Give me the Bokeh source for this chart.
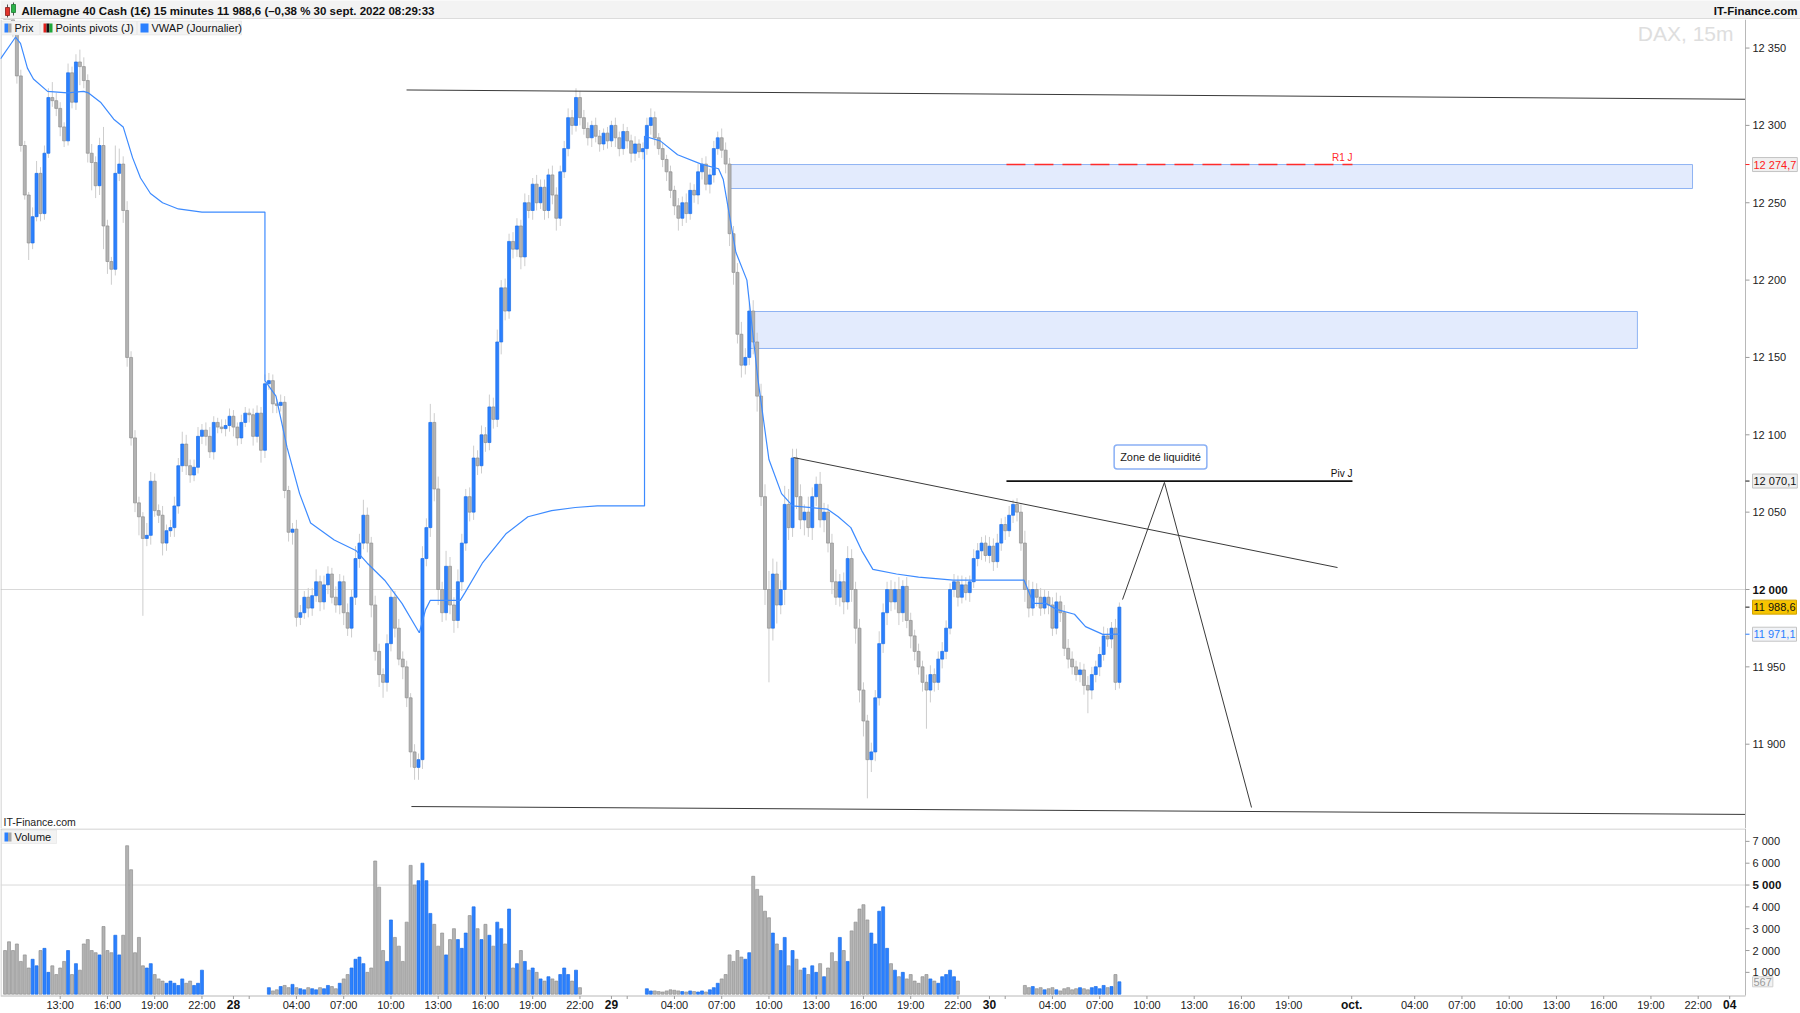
from bokeh.plotting import figure
from bokeh.models import Range1d, Label, BoxAnnotation, ColumnDataSource
from bokeh.layouts import column
from bokeh.embed import file_html
from bokeh.resources import INLINE

FONT = "Liberation Sans"

# ---------------- data (15-minute DAX CFD bars, hours since 27 Sep 2022 00:00) ----------------
T_FIRST = 9.5
BAR_H = 0.25
OPEN_FIRST = 12400

closes = [
    12390,
    12378, 12360, 12332, 12287, 12255, 12224, 12241, 12269,
    12243, 12282, 12318, 12316, 12311, 12299, 12290, 12334,
    12315, 12341, 12338, 12329, 12282, 12276, 12261, 12287,
    12235, 12212, 12207, 12269, 12275, 12245, 12150, 12098,
    12056, 12047, 12033, 12035, 12070, 12051, 12048, 12030,
    12038, 12040, 12054, 12080, 12094, 12080, 12074, 12079,
    12099, 12103, 12099, 12089, 12108, 12105, 12104, 12106,
    12112, 12105, 12098, 12108, 12114, 12113, 12099, 12114,
    12090, 12133, 12135, 12120, 12119, 12121, 12064, 12037,
    12039, 11982, 11985, 11995, 11988, 11996, 12005, 11992,
    12003, 12010, 11995, 11990, 12005, 11985, 11975, 11995,
    12020, 12030, 12048, 12030, 11990, 11960, 11945, 11940,
    11965, 11995, 11975, 11955, 11950, 11930, 11895, 11885,
    11890, 12020, 12040, 12108, 12065, 12000, 11985, 12015,
    11990, 11980, 12005, 12030, 12060, 12050, 12085, 12080,
    12100, 12095, 12118, 12110, 12160, 12195, 12180, 12225,
    12220, 12235, 12215, 12250, 12245, 12262, 12250, 12260,
    12245, 12268, 12255, 12240, 12270, 12285, 12305, 12300,
    12318, 12305, 12298, 12292, 12300, 12293, 12288, 12295,
    12290, 12300, 12292, 12285, 12296, 12290, 12282, 12288,
    12283, 12285, 12300, 12305, 12292, 12285, 12278, 12270,
    12258, 12248, 12240, 12250, 12243, 12258, 12255, 12270,
    12275, 12262, 12268, 12285, 12292, 12284, 12275, 12230,
    12205, 12165, 12145, 12150, 12180, 12160, 12125, 12060,
    12000, 11975, 12010, 11990, 12000, 12055, 12040, 12085,
    12060, 12045, 12050, 12040, 12060, 12068, 12045, 12050,
    12030, 12005, 11995, 12005, 11992, 12020, 12000, 11975,
    11935, 11915, 11890, 11895, 11930, 11965, 11985, 12000,
    11992, 12000, 11985, 12002, 11980, 11970, 11960, 11950,
    11940, 11935, 11945, 11940, 11955, 11960, 11975, 12000,
    12005, 11995, 12003, 11998, 12005, 12020, 12025, 12030,
    12022, 12028, 12018, 12030, 12042, 12038, 12048, 12055,
    12050, 12030, 12000, 11988, 12000, 11995, 11988, 11995,
    11990, 11975, 11992, 11985, 11962, 11955, 11950, 11945,
    11948, 11938, 11935, 11945, 11950, 11958, 11970, 11968,
    11975, 11940, 11988.6,
]

wick_up = [
    4,
    5, 4, 3, 4, 3, 2, 6, 8,   4, 5, 6, 10, 5, 4, 3, 6,   4, 5, 8, 6, 4, 6, 4, 5,
    12, 4, 3, 18, 10, 5, 6, 4,   5, 4, 3, 8, 6, 5, 4, 6,   4, 5, 6, 5, 8, 6, 4, 5,
    6, 4, 5, 6, 4, 3, 5, 4,   5, 4, 3, 5, 4, 3, 4, 5,   4, 6, 5, 4, 3, 5, 4, 3,
    4, 6, 5, 4, 6, 5, 8, 4,   6, 5, 4, 7, 5, 4, 6, 5,   8, 6, 10, 5, 4, 6, 5, 4,
    6, 5, 4, 6, 5, 4, 3, 5,   4, 8, 6, 12, 6, 8, 5, 10,   6, 5, 8, 6, 5, 6, 8, 5,
    6, 5, 8, 6, 8, 5, 6, 5,   6, 5, 4, 6, 5, 4, 6, 5,   5, 4, 6, 5, 4, 5, 6, 5,
    6, 4, 5, 4, 3, 5, 4, 3,   4, 3, 5, 4, 5, 3, 4, 5,   3, 4, 5, 6, 4, 3, 4, 3,
    4, 3, 5, 4, 6, 5, 4, 5,   4, 5, 4, 5, 4, 6, 5, 4,   5, 6, 8, 6, 5, 7, 6, 8,
    8, 12, 10, 8, 6, 12, 10, 6,   6, 8, 5, 10, 6, 5, 8, 6,   5, 6, 8, 5, 6, 8, 6, 5,
    6, 5, 4, 6, 5, 8, 6, 5,   6, 5, 8, 4, 6, 5, 4, 5,   4, 5, 6, 4, 5, 6, 5, 4,
    5, 4, 6, 5, 4, 6, 5, 4,   5, 6, 5, 6, 4, 5, 6, 3,   4, 5, 8, 6, 5, 4, 6, 5,
    4, 5, 6, 4, 5, 6, 5, 4,   5, 4, 6, 5, 4, 5, 6, 5,   4, 6, 3,
]

wick_dn = [
    3,
    4, 3, 5, 4, 3, 11, 4, 3,   5, 4, 3, 4, 5, 6, 4, 3,   4, 5, 12, 5, 6, 18, 8, 6,
    15, 8, 10, 4, 5, 8, 6, 5,   6, 12, 50, 5, 6, 4, 5, 8,   5, 4, 6, 5, 4, 6, 5, 4,
    4, 5, 6, 4, 5, 4, 3, 5,   4, 6, 5, 4, 3, 5, 6, 4,   8, 5, 4, 6, 5, 4, 5, 6,
    8, 6, 5, 4, 6, 5, 4, 6,   5, 6, 4, 5, 6, 8, 5, 6,   5, 6, 4, 6, 8, 6, 8, 10,
    6, 5, 6, 4, 8, 6, 10, 8,   8, 6, 5, 6, 8, 10, 6, 5,   6, 8, 5, 6, 5, 6, 5, 6,
    5, 6, 5, 6, 5, 8, 6, 5,   6, 5, 8, 6, 5, 6, 5, 4,   6, 5, 6, 8, 5, 4, 5, 6,
    4, 5, 4, 5, 6, 4, 5, 4,   5, 4, 6, 5, 4, 5, 6, 5,   4, 5, 4, 6, 5, 4, 5, 6,
    5, 6, 8, 5, 6, 4, 5, 6,   5, 4, 6, 5, 4, 5, 6, 8,   8, 6, 8, 6, 5, 8, 10, 6,
    10, 35, 8, 12, 6, 10, 8, 6,   8, 6, 10, 6, 8, 6, 5, 8,   6, 8, 5, 6, 8, 5, 8, 10,
    8, 10, 25, 8, 6, 5, 6, 8,   6, 5, 8, 6, 5, 8, 6, 5,   6, 25, 8, 6, 5, 6, 5, 4,
    5, 6, 4, 5, 6, 4, 5, 6,   4, 5, 6, 4, 5, 6, 4, 5,   6, 5, 8, 6, 5, 6, 5, 4,
    6, 5, 4, 6, 5, 6, 5, 4,   5, 6, 15, 6, 5, 6, 4, 5,   6, 5, 4,
]

volumes = [
    2000,
    2400, 2000, 2300, 1500, 1800, 1200, 1600, 1300,
    2000, 2100, 1000, 1300, 900, 1200, 1500, 2000,
    900, 1400, 1100, 2300, 2500, 2000, 1900, 1800,
    3100, 2000, 1900, 2700, 1800, 2700, 6800, 5700,
    1900, 2600, 1300, 1200, 1400, 900, 700, 600,
    500, 600, 500, 400, 700, 500, 600, 400,
    500, 1100, 0, 0, 0, 0, 0, 0,
    0, 0, 0, 0, 0, 0, 0, 0,
    0, 0, 300, 150, 200, 350, 400, 300,
    450, 300, 250, 200, 300, 250, 200, 300,
    250, 400, 350, 250, 500, 700, 900, 1200,
    1600, 1700, 1400, 1000, 1200, 6100, 4900, 2000,
    1500, 3400, 2600, 2200, 1500, 3300, 5900, 5000,
    5200, 6000, 5200, 3700, 3200, 2200, 2800, 1800,
    2500, 3000, 2500, 2100, 2800, 3600, 4000, 3000,
    2500, 3200, 2700, 2200, 3300, 3000, 2300, 3900,
    1200, 1400, 2000, 1500, 1100, 1200, 1000, 700,
    600, 800, 700, 600, 900, 1200, 900, 600,
    1100, 300, 0, 0, 0, 0, 0, 0,
    0, 0, 0, 0, 0, 0, 0, 0,
    0, 0, 250, 150, 150, 120, 100, 150,
    200, 180, 150, 120, 100, 150, 120, 100,
    150, 100, 200, 300, 500, 700, 900, 1800,
    1500, 2000, 1700, 1600, 1900, 5400, 4800, 4500,
    3800, 3500, 2800, 2300, 2000, 2600, 1300, 2000,
    1600, 1100, 1200, 900, 1300, 1000, 1400, 800,
    1200, 1900, 1500, 2600, 2000, 1500, 2900, 3300,
    3900, 4100, 3400, 2800, 2300, 3800, 4000, 2100,
    1400, 1100, 800, 1000, 700, 900, 600, 500,
    800, 900, 700, 600, 500, 800, 900, 1100,
    800, 600, 0, 0, 0, 0, 0, 0,
    0, 0, 0, 0, 0, 0, 0, 0,
    0, 0, 400, 300, 350, 250, 300, 200,
    250, 300, 200, 150, 250, 300, 200, 250,
    300, 250, 200, 300, 350, 250, 400, 300,
    350, 900, 567,
]

vwap_t = [9.21, 10.16, 10.48, 10.92, 11.3, 12.2, 13.46, 14.48, 14.8, 15.56, 16.4, 17.0, 17.6, 18.1,
          18.73, 19.5, 20.5, 22.0, 26.0, 26.0, 26.7, 27.4, 28.2, 28.9, 30.4, 31.8, 32.5, 33.6, 34.7,
          35.8, 36.2, 36.5, 38.4, 38.7, 39.8, 41.3, 42.7, 44.2, 45.7, 47.1, 50.1, 50.1, 51.1, 52.2,
          53.7, 54.8, 55.1, 55.9, 56.6, 57.3, 58.0, 58.8, 59.5, 61.7, 62.4, 63.2, 63.9, 64.6, 66.1,
          67.5, 69.7, 74.2, 74.8, 75.6, 76.3, 77.4, 78.1, 79.2, 80.25]
vwap_p = [12343, 12357, 12353, 12337, 12330, 12322, 12321, 12322, 12321, 12315, 12304, 12299, 12279, 12266,
          12256, 12250, 12246, 12244, 12244, 12135, 12125, 12092, 12062, 12043, 12032, 12025, 12017, 12006,
          11991, 11972, 11987, 11993, 11993, 11998, 12017, 12036, 12047, 12051, 12053, 12054, 12054, 12293,
          12290, 12281, 12275, 12272, 12265, 12218, 12200, 12136, 12084, 12062, 12054, 12052, 12047, 12040,
          12025, 12013, 12010, 12008, 12006, 12006, 11991, 11991, 11987, 11984, 11976, 11971, 11971.1]

price_ticks = [11900, 11950, 12000, 12050, 12100, 12150, 12200, 12250, 12300, 12350]
volume_ticks = [1000, 2000, 3000, 4000, 5000, 6000, 7000]
time_ticks = [13, 16, 19, 22, 28, 31, 34, 37, 40, 43, 46, 52, 55, 58, 61, 64, 67, 70,
              76, 79, 82, 85, 88, 91, 99, 102, 105, 108, 111, 114, 117]
time_labels = ["13:00", "16:00", "19:00", "22:00",
               "04:00", "07:00", "10:00", "13:00", "16:00", "19:00", "22:00",
               "04:00", "07:00", "10:00", "13:00", "16:00", "19:00", "22:00",
               "04:00", "07:00", "10:00", "13:00", "16:00", "19:00",
               "04:00", "07:00", "10:00", "13:00", "16:00", "19:00", "22:00"]
minor_time_ticks = [25, 49, 73]
day_ticks = [24, 48, 72, 95, 119]
day_labels = ["28", "29", "30", "oct.", "04"]

# user drawings (time in hours, price)
trend_top_t, trend_top_p = [34.99, 120.0], [12322.9, 12316.9]
trend_bottom_t, trend_bottom_p = [35.30, 120.0], [11859.7, 11854.6]
trend_desc_t, trend_desc_p = [59.56, 94.10], [12085.3, 12014.2]
proj_t, proj_p = [80.45, 83.11, 88.64], [11993.5, 12069.2, 11859.1]
zone_left = [55.49, 56.70]
zone_right = [116.64, 113.14]
zone_bottom = [12259.2, 12155.8]
zone_top = [12274.7, 12179.7]
pivot_t = [73.08, 95.05]
r1_level = 12274.7
piv_level = 12070.1
last_price = 11988.6
vwap_last = 11971.1
last_volume = 567

# ---------------- pixel helpers for UI placement ----------------
PX_H = 15.75
T_AT0 = 9.21
PX_PT = 1.547
Y_12000 = 589
VOL_ZERO_Y = 993.7
PX_VOL = 0.021833
W = 1800
AXIS_X = 1745


def tx(x):
    return T_AT0 + x / PX_H


def py(y):
    return 12000 + (Y_12000 - y) / PX_PT


def vy(y):
    return (VOL_ZERO_Y - y) / PX_VOL


def fr(v, dec=0):
    return f"{v:,.{dec}f}".replace(",", " ").replace(".", ",")


def label(fig, x, y, text, size="11px", color="#222222", align="left", baseline="middle", bold=False, **kw):
    fig.add_layout(Label(x=x, y=y, text=text, text_font=FONT, text_font_size=size, text_color=color,
                         text_align=align, text_baseline=baseline,
                         text_font_style="bold" if bold else "normal", **kw))


n = len(closes)
assert len(wick_up) == n and len(wick_dn) == n and len(volumes) == n, (n, len(wick_up), len(wick_dn), len(volumes))
times = [T_FIRST + i * BAR_H for i in range(n)]
opens = [OPEN_FIRST] + closes[:-1]
tops = [max(o, c) for o, c in zip(opens, closes)]
bots = [min(o, c) for o, c in zip(opens, closes)]
highs = [t + u for t, u in zip(tops, wick_up)]
lows = [b - d for b, d in zip(bots, wick_dn)]
is_up = [c >= o for o, c in zip(opens, closes)]
UP_FILL, UP_LINE = "#2b80ff", "#1c6fe6"
DN_FILL, DN_LINE = "#b3b3b3", "#919191"
src = ColumnDataSource(dict(
    t=times, top=tops, bot=bots, h=highs, l=lows,
    fill=[UP_FILL if u else DN_FILL for u in is_up],
    line=[UP_LINE if u else DN_LINE for u in is_up],
))

xr = Range1d(tx(0), tx(W))
BORDER = "#c4c4c4"

# ---------------- header (page pixel coordinates, y downwards) ----------------
hdr = figure(frame_width=W, frame_height=19, x_range=Range1d(0, W), y_range=Range1d(19, 0),
             toolbar_location=None, output_backend="svg", x_axis_location=None, y_axis_location=None,
             min_border=0, outline_line_color=None, background_fill_color="#f3f3f3",
             border_fill_color="#f3f3f3")
hdr.grid.visible = False
hdr.line([0, W], [18.5, 18.5], line_color=BORDER, line_width=1)
hdr.segment([7, 13], [4, 2], [7, 13], [17, 15], line_color="#555555", line_width=1)
hdr.quad(left=[5, 11], right=[9, 15], bottom=[15, 12], top=[7, 4],
         fill_color=["#e2342c", "#2db34a"], line_color=["#8a1d18", "#1b7a30"], line_width=0.8)
label(hdr, 21, 10, "Allemagne 40 Cash (1€) 15 minutes 11 988,6 (–0,38 % 30 sept. 2022 08:29:33",
      size="11.5px", color="#111111", bold=True)
label(hdr, 1797, 10, "IT-Finance.com", size="11.5px", color="#111111", align="right", bold=True)

# ---------------- price panel ----------------
p = figure(frame_width=W, frame_height=809, x_range=xr, y_range=Range1d(py(828), py(19)),
           x_axis_location=None, y_axis_location=None, toolbar_location=None, output_backend="svg",
           min_border=0, outline_line_color=None, background_fill_color="white", border_fill_color="white")
p.grid.visible = False

# grid line at 12 000, frame borders
p.line([tx(0), tx(AXIS_X)], [12000, 12000], line_color="#d9d9d9", line_width=1)
p.line([tx(0.5), tx(0.5)], [py(19), py(828)], line_color=BORDER, line_width=1)

# zones
p.quad(left=zone_left, right=zone_right, bottom=zone_bottom, top=zone_top,
       fill_color="#e3ebfd", line_color="#8fb3f3", line_width=1)

# candles
p.segment(x0="t", y0="l", x1="t", y1="h", source=src, line_color="#cdcdcd", line_width=1)
p.vbar(x="t", width=0.19, top="top", bottom="bot", source=src, fill_color="fill", line_color="line",
       line_width=0.7)

# VWAP
p.line(vwap_t, vwap_p, line_color="#3d8bff", line_width=1.2)

# pivots
p.line(pivot_t, [r1_level, r1_level], line_color="#ff2b2b", line_width=1.6, line_dash="19 9")
p.line(pivot_t, [piv_level, piv_level], line_color="#111111", line_width=1.8)

# trend lines
for xs, ys in [(trend_top_t, trend_top_p), (trend_bottom_t, trend_bottom_p),
               (trend_desc_t, trend_desc_p), (proj_t, proj_p)]:
    p.line(xs, ys, line_color="#3a3a3a", line_width=1)

label(p, pivot_t[1], r1_level, "R1 J", size="10px", color="#ff2b2b", align="right", baseline="bottom", y_offset=2)
label(p, pivot_t[1], piv_level, "Piv J", size="10px", color="#111111", align="right", baseline="bottom", y_offset=2)
label(p, tx(1160), py(456.5), "Zone de liquidité", size="11px", color="#222222", align="center",
      background_fill_color="white", border_line_color="#8ab0f5", border_line_width=1.5,
      padding=6, border_radius=3)
label(p, tx(1733), py(33), "DAX, 15m", size="21px", color="#dedede", align="right")
label(p, tx(3), py(821), "IT-Finance.com", size="10.5px", color="#222222")

# legend row
for l, r in [(1, 39), (40, 136), (137, 241)]:
    p.add_layout(BoxAnnotation(left=tx(l), right=tx(r), top=py(20.5), bottom=py(34.5), fill_color="#f3f3f3",
                               fill_alpha=1, line_color="#cdcdcd", line_width=1))
for l, r, c in [(4, 7.5, "#2b80ff"), (7.5, 11, "#a8a8a8"), (43, 46, "#e0201b"), (46, 49, "#111111"),
                (49, 52, "#1ea83a"), (140, 148, "#2b80ff")]:
    p.add_layout(BoxAnnotation(left=tx(l), right=tx(r), top=py(23), bottom=py(32), fill_color=c,
                               fill_alpha=1, line_color=None))
for x, t in [(14, "Prix"), (55, "Points pivots (J)"), (151, "VWAP (Journalier)")]:
    label(p, tx(x), py(27.5), t, size="11px", color="#111111")

# right price axis (drawn in the frame)
p.line([tx(AXIS_X), tx(AXIS_X)], [py(19), py(828)], line_color="#b8b8b8", line_width=1)
p.segment(x0=[tx(AXIS_X)] * len(price_ticks), y0=price_ticks, x1=[tx(AXIS_X + 4)] * len(price_ticks),
          y1=price_ticks, line_color="#9a9a9a", line_width=1)
for t in price_ticks:
    label(p, tx(1752), t, fr(t), size="11.5px" if t == 12000 else "11px",
          color="#111111" if t == 12000 else "#222222", bold=(t == 12000))

tags = [(r1_level, "#ff2020", "#efefef", "#c4c4c4"),
        (piv_level, "#111111", "#efefef", "#c4c4c4"),
        (last_price, "#111111", "#f6c400", "#d2a400"),
        (vwap_last, "#2b7fff", "#f1f3f7", "#c4c4c4")]
p.segment(x0=[tx(AXIS_X)] * 4, y0=[t[0] for t in tags], x1=[tx(AXIS_X + 4)] * 4, y1=[t[0] for t in tags],
          line_color=[t[1] for t in tags], line_width=1)
for lvl, txt_col, bg, bd in tags:
    label(p, tx(1752), lvl, fr(lvl, 1), size="11px", color=txt_col,
          background_fill_color=bg, border_line_color=bd, padding=1)

# ---------------- volume panel ----------------
pv = figure(frame_width=W, frame_height=185, x_range=xr, y_range=Range1d(vy(1013), vy(828)),
            x_axis_location=None, y_axis_location=None, toolbar_location=None, output_backend="svg",
            min_border=0, outline_line_color=None, background_fill_color="white", border_fill_color="white")
pv.grid.visible = False
pv.line([tx(0), tx(AXIS_X)], [vy(828.5), vy(828.5)], line_color=BORDER, line_width=1)
pv.line([tx(0.5), tx(0.5)], [vy(828), vy(995)], line_color=BORDER, line_width=1)
pv.line([tx(0), tx(AXIS_X)], [5000, 5000], line_color="#d9d9d9", line_width=1)

vsrc = ColumnDataSource(dict(
    t=[t for t, v in zip(times, volumes) if v > 0],
    v=[v for v in volumes if v > 0],
    fill=[UP_FILL if u else DN_FILL for u, v in zip(is_up, volumes) if v > 0],
    line=[UP_LINE if u else DN_LINE for u, v in zip(is_up, volumes) if v > 0],
))
pv.vbar(x="t", width=0.19, top="v", bottom=0, source=vsrc, fill_color="fill", line_color="line",
        line_width=0.7)

pv.add_layout(BoxAnnotation(left=tx(1), right=tx(56), top=vy(829.5), bottom=vy(843), fill_color="#f3f3f3",
                            fill_alpha=1, line_color="#cdcdcd", line_width=1))
pv.add_layout(BoxAnnotation(left=tx(4), right=tx(7.5), top=vy(832), bottom=vy(841), fill_color="#2b80ff",
                            fill_alpha=1, line_color=None))
pv.add_layout(BoxAnnotation(left=tx(7.5), right=tx(11), top=vy(832), bottom=vy(841), fill_color="#a8a8a8",
                            fill_alpha=1, line_color=None))
label(pv, tx(14), vy(836.5), "Volume", size="11px", color="#111111")

# right volume axis
pv.line([tx(AXIS_X), tx(AXIS_X)], [vy(828), vy(995)], line_color="#b8b8b8", line_width=1)
pv.segment(x0=[tx(AXIS_X)] * len(volume_ticks), y0=volume_ticks, x1=[tx(AXIS_X + 4)] * len(volume_ticks),
           y1=volume_ticks, line_color="#9a9a9a", line_width=1)
for t in volume_ticks:
    label(pv, tx(1752), t, fr(t), size="11.5px" if t == 5000 else "11px",
          color="#111111" if t == 5000 else "#222222", bold=(t == 5000))
label(pv, tx(1752), last_volume, fr(last_volume), size="11px", color="#9a9a9a",
      background_fill_color="#f2f2f2", border_line_color="#cfcfcf", padding=1)

# time axis
pv.line([tx(0), tx(AXIS_X)], [vy(995.5), vy(995.5)], line_color="#b8b8b8", line_width=1)
all_ticks = time_ticks + day_ticks + minor_time_ticks
pv.segment(x0=all_ticks, y0=[vy(995.5)] * len(all_ticks), x1=all_ticks, y1=[vy(998.5)] * len(all_ticks),
           line_color="#9a9a9a", line_width=1)
for t, l in zip(time_ticks, time_labels):
    label(pv, t, vy(1004), l, size="11px", color="#222222", align="center")
for t, l in zip(day_ticks, day_labels):
    label(pv, t, vy(1004), l, size="12px", color="#111111", align="center", bold=True)

layout = column(hdr, p, pv, spacing=0)
open("out.html", "w").write(file_html(layout, INLINE, title="DAX 15m"))
